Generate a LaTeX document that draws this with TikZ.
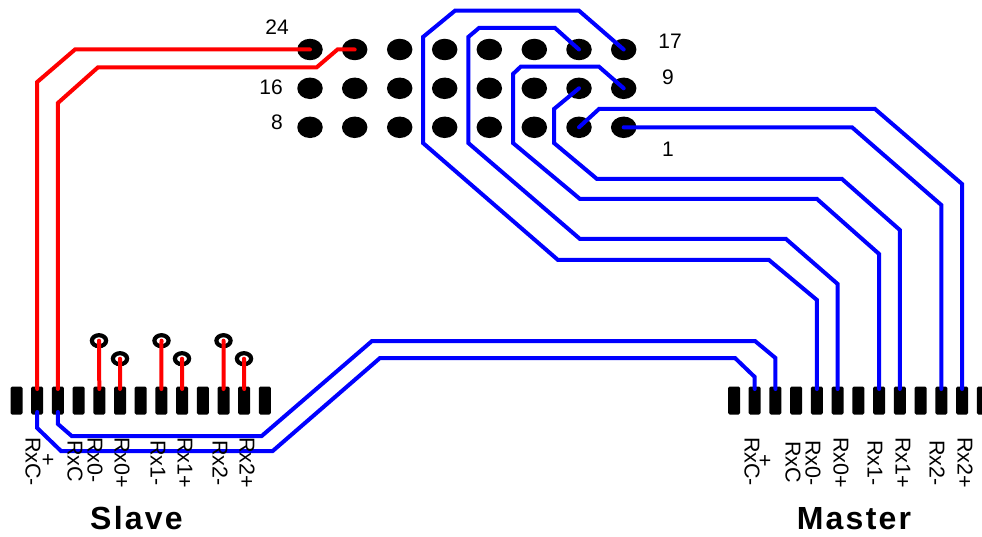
\documentclass[tikz,border=0pt]{standalone}
\usepackage{fontspec}
\setmainfont{Liberation Sans}
\newfontfamily\headfont[LetterSpace=7]{Liberation Sans}
\usetikzlibrary{shapes.geometric}

\tikzset{
    padbox/.style={fill=black, rounded corners=1.5, minimum width=12, minimum height=28, inner sep=0},
    holedot/.style={ellipse, fill=black, minimum width=25.5, minimum height=21.5, inner sep=0},
    ringdot/.style={ellipse, draw=black, fill=white, line width=4.2, minimum width=14.2, minimum height=11, inner sep=0},
    redline/.style={draw=red, line width=4, line cap=round, line join=miter},
    blueline/.style={draw=blue, line width=4, line cap=round, line join=miter},
    pintext/.style={inner sep=0, anchor=base, font=\fontsize{21}{24}\selectfont},
    sigtext/.style={inner sep=0, anchor=base west, rotate=-90, font=\fontsize{21.5}{24}\selectfont},
    plustext/.style={inner sep=0, rotate=-90, font=\fontsize{21.5}{24}\selectfont},
    headtext/.style={inner sep=0, anchor=base, font=\fontsize{32}{36}\selectfont\headfont\bfseries},
}

\begin{document}
\begin{tikzpicture}[x=1pt, y=-1pt]
    \useasboundingbox (0,0) rectangle (982,537);

    % Connector Pads
    \foreach \i in {1,...,13} {
        \pgfmathsetmacro{\sx}{16.5+20.7*(\i-1)}
        \pgfmathsetmacro{\mx}{734+20.73*(\i-1)}
        \node[padbox] (s\i) at (\sx,400.5) {};
        \node[padbox] (m\i) at (\mx,400.5) {};
        \coordinate (s\i t) at (\sx,389);
        \coordinate (s\i b) at (\sx,412);
        \coordinate (m\i t) at (\mx,389);
    }

    % Header Holes
    \foreach \x [count=\c] in {310,354.7,399.7,444.7,489.3,534.3,579,623.7} {
        \pgfmathtruncatemacro{\ntop}{25-\c}
        \pgfmathtruncatemacro{\nmid}{17-\c}
        \pgfmathtruncatemacro{\nlow}{9-\c}
        \node[holedot] (h\ntop) at (\x,49.5) {};
        \node[holedot] (h\nmid) at (\x,88.3) {};
        \node[holedot] (h\nlow) at (\x,127.3) {};
    }

    % Test Rings
    \node[ringdot] (r1) at (99,340.7) {};
    \node[ringdot] (r2) at (120,358.7) {};
    \node[ringdot] (r3) at (161.5,340.7) {};
    \node[ringdot] (r4) at (182,358.7) {};
    \node[ringdot] (r5) at (223.5,340.7) {};
    \node[ringdot] (r6) at (244,358.7) {};

    % Red Traces
    \draw[redline] (h24.center) -- (75,49.5) -- (37.2,82) -- (s2t);
    \draw[redline] (h23.center) -- (337.5,49.5) -- (316.7,67.3) -- (98,67.3) -- (57.9,103) -- (s3t);
    \draw[redline] (r1.center) -- (s5t);
    \draw[redline] (r2.center) -- (s6t);
    \draw[redline] (r3.center) -- (s8t);
    \draw[redline] (r4.center) -- (s9t);
    \draw[redline] (r5.center) -- (s11t);
    \draw[redline] (r6.center) -- (s12t);

    % Blue Traces
    % -- slave to master
    \draw[blueline] (s2b) -- (37.2,428) -- (61,451) -- (272.7,451) -- (380,358) -- (735,358) -- (m2t |- 0,377) -- (m2t);
    \draw[blueline] (s3b) -- (57.9,424) -- (71.7,436) -- (261.7,436) -- (372,341) -- (755,341) -- (m3t |- 0,358) -- (m3t);

    % -- header to master
    \draw[blueline] (h17.center) -- (579,10.7) -- (455,10.7) -- (423,37) -- (423,143) -- (558,260) -- (769,260) -- (m5t |- 0,300) -- (m5t);
    \draw[blueline] (h18.center) -- (555,28) -- (479,28) -- (468.3,37) -- (468.3,143) -- (580,239) -- (786,239) -- (m6t |- 0,284) -- (m6t);
    \draw[blueline] (h9.center) -- (599,66.7) -- (520.7,66.7) -- (513,74) -- (513,143) -- (580,199) -- (817,199) -- (m8t |- 0,254) -- (m8t);
    \draw[blueline] (h10.center) -- (554,109) -- (554,143) -- (597,179) -- (842,179) -- (m9t |- 0,230) -- (m9t);
    \draw[blueline] (h1.center) -- (852,127.3) -- (m11t |- 0,205) -- (m11t);
    \draw[blueline] (h2.center) -- (599,109) -- (875,109) -- (m12t |- 0,184) -- (m12t);

    % Pin Numbers
    \node[pintext] (n24) at (277,35) {24};
    \node[pintext] (n16) at (271,95) {16};
    \node[pintext] (n8) at (277,130) {8};
    \node[pintext] (n17) at (670,49) {17};
    \node[pintext] (n9) at (668,85) {9};
    \node[pintext] (n1) at (668,157) {1};

    % Slave Labels
    \node[sigtext] (sa) at (25.5,437) {RxC-};
    \node[plustext] (sb) at (47,460) {+};
    \node[sigtext] (sc) at (67.5,440) {RxC};
    \node[sigtext] (sd) at (87.5,437) {Rx0-};
    \node[sigtext] (se) at (114.5,437) {Rx0+};
    \node[sigtext] (sf) at (150.5,440) {Rx1-};
    \node[sigtext] (sg) at (177.5,437) {Rx1+};
    \node[sigtext] (sh) at (212.5,440) {Rx2-};
    \node[sigtext] (si) at (239.5,437) {Rx2+};

    % Master Labels
    \node[sigtext] (ma) at (744.5,437) {RxC-};
    \node[plustext] (mb) at (764,460.7) {+};
    \node[sigtext] (mc) at (785.5,441) {RxC};
    \node[sigtext] (md) at (805.5,440) {Rx0-};
    \node[sigtext] (me) at (833.5,437) {Rx0+};
    \node[sigtext] (mf) at (867.5,440) {Rx1-};
    \node[sigtext] (mg) at (895.5,437) {Rx1+};
    \node[sigtext] (mh) at (929.5,440) {Rx2-};
    \node[sigtext] (mi) at (957.5,437) {Rx2+};

    % Overall Headers
    \node[headtext] (slave) at (136.5,529) {Slave};
    \node[headtext] (master) at (854,529) {Master};
\end{tikzpicture}
\end{document}
